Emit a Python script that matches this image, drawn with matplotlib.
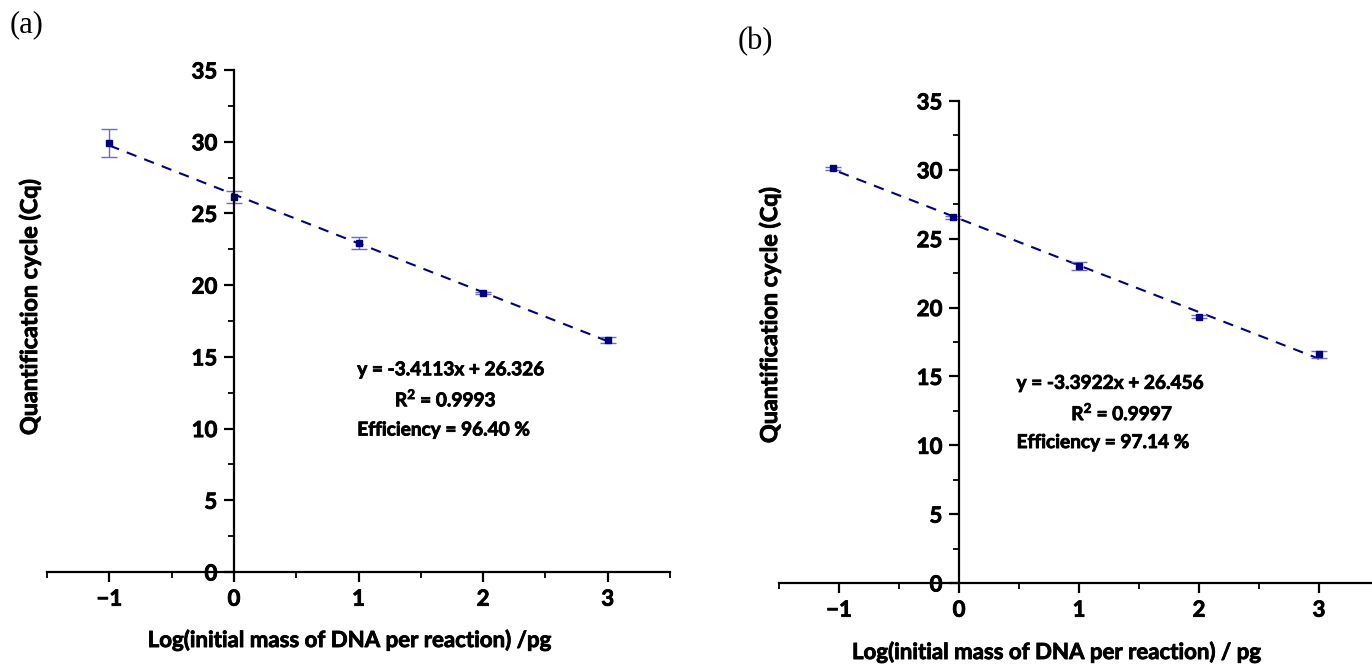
import numpy as np
import matplotlib
matplotlib.use("Agg")
import matplotlib.pyplot as plt
import matplotlib.patheffects as pe
from matplotlib.ticker import MultipleLocator

# panel (a)
xa = [-1, 0, 1, 2, 3]
cq_a = [29.92, 26.13, 22.94, 19.45, 16.18]
err_a = [0.97, 0.40, 0.45, 0.10, 0.20]
slope_a, icpt_a = -3.4113, 26.326
txt_a = ["y = -3.4113x + 26.326", "R$^{\\mathbf{2}}$ = 0.9993", "Efficiency = 96.40 %"]

# panel (b)
xb = [-1.05, -0.05, 1, 2, 3]
cq_b = [30.12, 26.55, 23.02, 19.35, 16.62]
err_b = [0.12, 0.10, 0.30, 0.10, 0.25]
slope_b, icpt_b = -3.3922, 26.456
txt_b = ["y = -3.3922x + 26.456", "R$^{\\mathbf{2}}$ = 0.9997", "Efficiency = 97.14 %"]

FONT = "Lato"
plt.rcParams["mathtext.fontset"] = "custom"
plt.rcParams["mathtext.rm"] = "Lato"
plt.rcParams["mathtext.bf"] = "Lato:bold"

navy = "#000080"
errc = "#6a6ac8"
thick = [pe.withStroke(linewidth=0.6, foreground="black")]

W, H = 1372, 664
fig = plt.figure(figsize=(W / 100, H / 100), dpi=100)


def px_axes(x0, x1, ytop, ybot):
    return fig.add_axes([x0 / W, 1 - ybot / H, (x1 - x0) / W, (ybot - ytop) / H])


def panel(ax, x, y, e, slope, icpt, txt, tpos):
    ax.set_xlim(-1.5, 3.5)
    ax.set_ylim(0, 35)
    for s in ["top", "right"]:
        ax.spines[s].set_visible(False)
    ax.spines["left"].set_position(("data", 0))
    ax.spines["bottom"].set_position(("data", 0))
    for s in ["left", "bottom"]:
        ax.spines[s].set_linewidth(1.6)
    ax.xaxis.set_major_locator(MultipleLocator(1))
    ax.xaxis.set_minor_locator(MultipleLocator(0.5))
    ax.yaxis.set_major_locator(MultipleLocator(5))
    ax.yaxis.set_minor_locator(MultipleLocator(2.5))
    ax.tick_params(which="major", length=7, width=1.6, labelsize=16, pad=5)
    ax.tick_params(which="minor", length=4, width=1.3)
    for lab in ax.get_xticklabels() + ax.get_yticklabels():
        lab.set_fontweight("bold")
        lab.set_fontfamily(FONT)
        lab.set_path_effects(thick)
    ax.patch.set_alpha(0)

    xl = np.array([-1, 3])
    ax.plot(xl, slope * xl + icpt, ls=(0, (5, 4)), color=navy, lw=1.5)
    ax.errorbar(x, y, yerr=e, fmt="s", ms=5, color=navy, ecolor=errc,
                elinewidth=1, capsize=6, capthick=1)

    (tx, ty0), (rx, ry), (ex, ey) = tpos
    kw = dict(fontsize=13.7, fontweight="bold", fontfamily=FONT, va="center",
              path_effects=thick)
    ax.text(tx, ty0, txt[0], ha="left", **kw)
    ax.text(rx, ry, txt[1], ha="center", **kw)
    ax.text(ex, ey, txt[2], ha="left", **kw)


ax1 = px_axes(47, 670, 70, 572)
panel(ax1, xa, cq_a, err_a, slope_a, icpt_a, txt_a,
      [(0.99, 14.1), (1.70, 12.1), (0.99, 9.9)])

ax2 = px_axes(779, 1379, 101, 583)
panel(ax2, xb, cq_b, err_b, slope_b, icpt_b, txt_b,
      [(0.48, 14.5), (1.36, 12.4), (0.48, 10.2)])

lab = dict(fontsize=16, fontweight="bold", fontfamily=FONT, ha="center", va="center",
           path_effects=thick)
fig.text(30 / W, 1 - 307 / H, "Quantification cycle (Cq)", rotation=90,
         **{**lab, "fontsize": 16.8})
fig.text(350 / W, 1 - 640 / H, "Log(initial mass of DNA per reaction) /pg", **lab)
fig.text(770 / W, 1 - 315 / H, "Quantification cycle (Cq)", rotation=90,
         **{**lab, "fontsize": 16.8})
fig.text(1057 / W, 1 - 652 / H, "Log(initial mass of DNA per reaction) / pg", **lab)

fig.text(10 / W, 1 - 25 / H, "(a)", fontsize=22, fontfamily="Liberation Serif", va="center")
fig.text(738 / W, 1 - 42 / H, "(b)", fontsize=22, fontfamily="Liberation Serif", va="center")

fig.savefig("out.png", dpi=100)
